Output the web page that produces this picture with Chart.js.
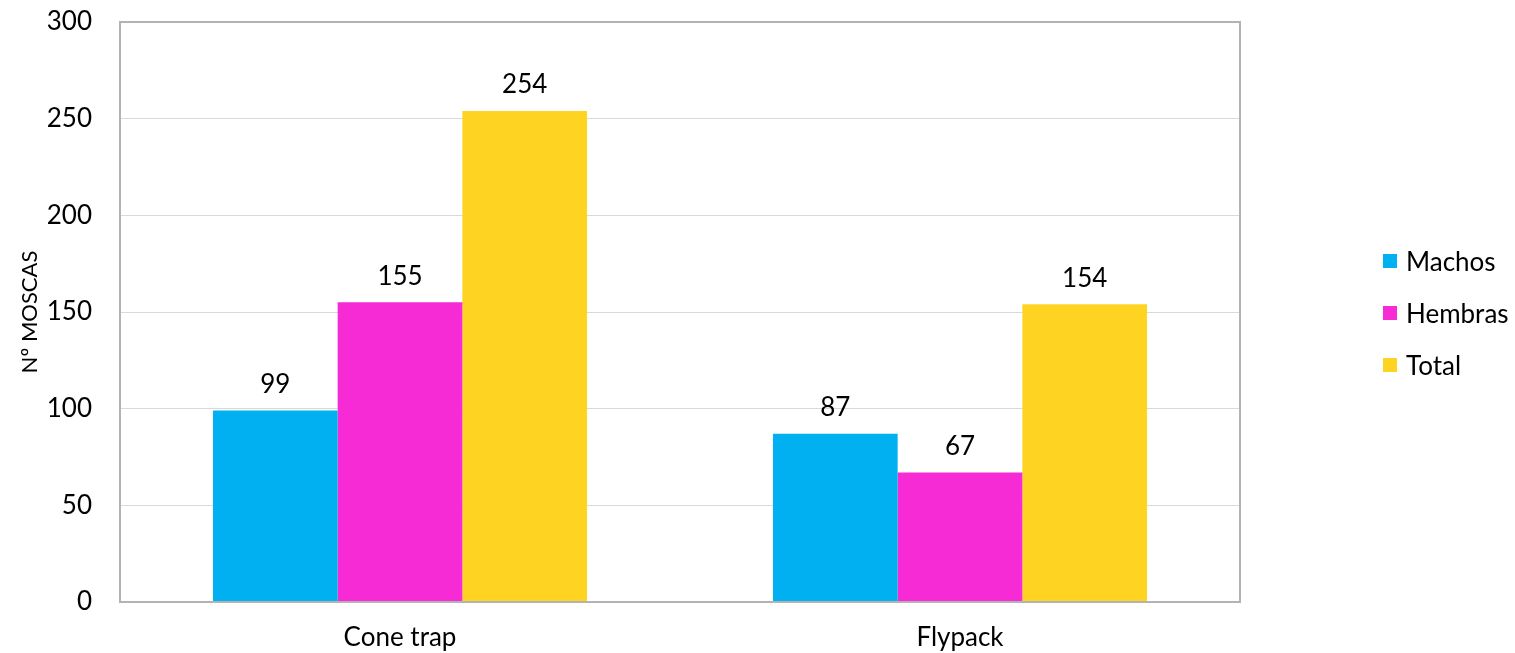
<!DOCTYPE html>
<html>
<head>
<meta charset="utf-8">
<script src="https://cdn.jsdelivr.net/npm/chart.js@4"></script>
<style>
    html, body { margin: 0; padding: 0; background: #fff; }
    #wrap { width: 1515px; height: 653px; }
</style>
</head>
<body>
<div id="wrap"><canvas id="moscasChart" width="1515" height="653"></canvas></div>
<script>
const categories = ["Cone trap", "Flypack"];
const seriesNames = ["Machos", "Hembras", "Total"];
const machos = [99, 87];
const hembras = [155, 67];
const total = [254, 154];
const yTicks = [0, 50, 100, 150, 200, 250, 300];

const COLORS = ["#00B0F0", "#F72BD5", "#FFD321"];
const FONT = "Lato, 'Open Sans', sans-serif";

// labels above each bar
const valueLabels = {
    id: "valueLabels",
    afterDatasetsDraw(chart) {
        const ctx = chart.ctx;
        ctx.save();
        ctx.font = "26px " + FONT;
        ctx.fillStyle = "#000";
        ctx.textAlign = "center";
        ctx.textBaseline = "middle";
        chart.data.datasets.forEach((ds, i) => {
            chart.getDatasetMeta(i).data.forEach((bar, j) => {
                ctx.fillText(String(ds.data[j]), bar.x, bar.y - 26);
            });
        });
        ctx.restore();
    }
};

// grey frame around plot area + legend on the right
const frameAndLegend = {
    id: "frameAndLegend",
    afterDraw(chart) {
        const ctx = chart.ctx;
        const a = chart.chartArea;
        ctx.save();
        ctx.strokeStyle = "#b3b3b3";
        ctx.lineWidth = 2;
        ctx.strokeRect(a.left, a.top, a.right - a.left, a.bottom - a.top);

        const mid = (a.top + a.bottom) / 2 + 1;
        const step = 52;
        ctx.font = "26px " + FONT;
        ctx.textBaseline = "middle";
        ctx.textAlign = "left";
        chart.data.datasets.forEach((ds, i) => {
            const y = mid + (i - 1) * step;
            ctx.fillStyle = ds.backgroundColor;
            ctx.fillRect(1383, y - 7, 14, 14);
            ctx.fillStyle = "#000";
            ctx.fillText(ds.label, 1406, y + 2);
        });
        ctx.restore();
    }
};

const ctx = document.getElementById("moscasChart").getContext("2d");
new Chart(ctx, {
    type: "bar",
    data: {
        labels: categories,
        datasets: [
            { label: seriesNames[0], data: machos, backgroundColor: COLORS[0] },
            { label: seriesNames[1], data: hembras, backgroundColor: COLORS[1] },
            { label: seriesNames[2], data: total, backgroundColor: COLORS[2] }
        ]
    },
    options: {
        responsive: false,
        animation: false,
        layout: { padding: { left: 17, right: 275, top: 0, bottom: 0 } },
        datasets: {
            bar: { categoryPercentage: 0.668, barPercentage: 1.0 }
        },
        plugins: {
            legend: { display: false },
            tooltip: { enabled: false }
        },
        scales: {
            x: {
                grid: { display: false, drawTicks: false },
                border: { display: false },
                ticks: { color: "#000", font: { family: FONT, size: 26 }, padding: 20 },
                afterFit: axis => { axis.height = 51; }
            },
            y: {
                min: 0,
                max: 300,
                afterBuildTicks: axis => { axis.ticks = yTicks.map(v => ({ value: v })); },
                // fixed axis width, and don't let tick padding push the plot around
                afterFit: axis => {
                    axis.width = 103;
                    axis.paddingTop = 22;
                    axis.paddingBottom = 16;
                },
                grid: { color: "#d9d9d9", lineWidth: 1, drawTicks: false },
                border: { display: false },
                ticks: { color: "#000", font: { family: FONT, size: 26 }, padding: 28 },
                title: {
                    display: true,
                    text: "Nº MOSCAS",
                    color: "#000",
                    font: { family: FONT, size: 22 },
                    padding: { top: 0, bottom: 5 }
                }
            }
        }
    },
    plugins: [valueLabels, frameAndLegend]
});
</script>
</body>
</html>
